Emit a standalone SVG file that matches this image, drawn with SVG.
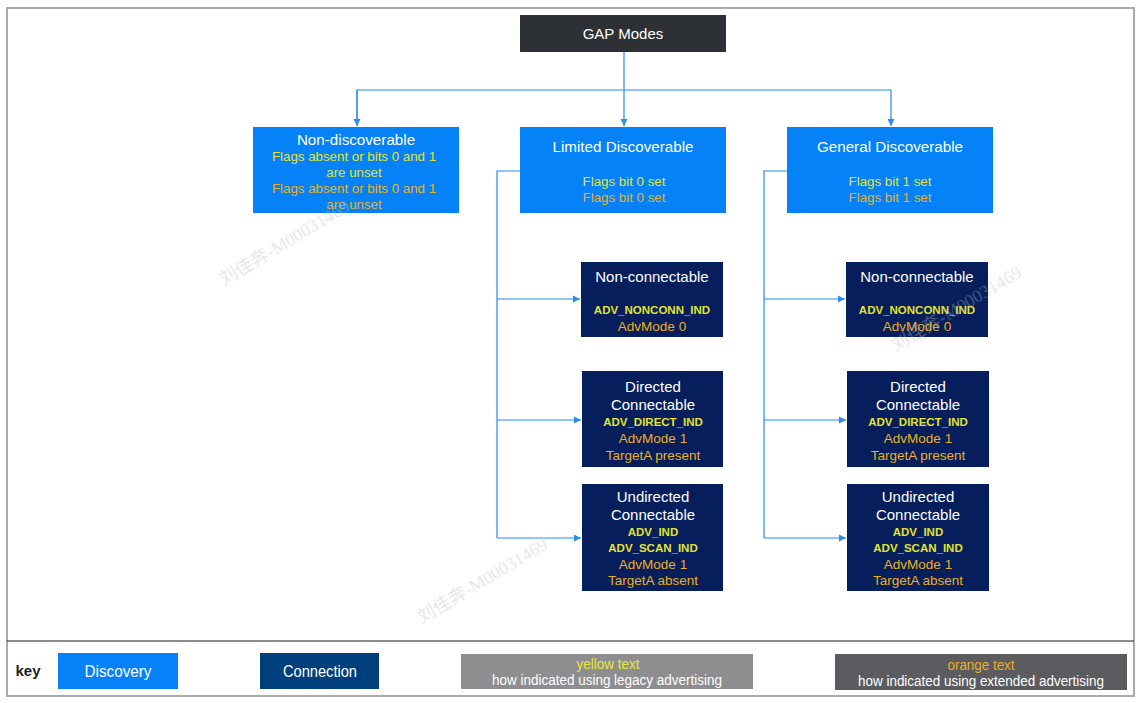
<svg xmlns="http://www.w3.org/2000/svg" width="1142" height="703" viewBox="0 0 1142 703">
<defs>
<marker id="arr" markerWidth="8" markerHeight="8" refX="7" refY="4" orient="auto" markerUnits="userSpaceOnUse">
<path d="M0,0.5 L7,4 L0,7.5 Z" fill="#2a8cf0"/>
</marker>
<style>
text{font-family:"Liberation Sans",Arial,sans-serif;text-anchor:middle}
.disc{fill:#0582f8}
.conn{fill:#061e5c}
.t{fill:#ffffff;font-size:15.2px}
.tc{fill:#ffffff;font-size:15px}
.y{fill:#e3e32f;font-size:13.3px}
.o{fill:#eab020;font-size:13.3px}
.yb{fill:#e3e32f;font-size:11.5px;font-weight:bold}
.oc{fill:#eab020;font-size:13.5px}
.ln{fill:none;stroke:#2a8cf0;stroke-width:1.2}
.wm{fill:#bdbdbd;opacity:0.35;font-size:18px;font-family:"Liberation Serif","Noto Sans CJK SC",serif;text-anchor:start}
</style>
</defs>
<rect x="0" y="0" width="1142" height="703" fill="#ffffff"/>
<rect x="7" y="8" width="1127" height="688" fill="none" stroke="#aaaaaa" stroke-width="2"/>
<line x1="7" y1="641" x2="1134" y2="641" stroke="#1a1a1a" stroke-width="1.2"/>

<g id="connectors">
<path class="ln" d="M624,52 V126" marker-end="url(#arr)"/>
<path class="ln" d="M357,126 V90 H891 V126" marker-end="url(#arr)"/>
<path class="ln" d="M357,90 V126" marker-end="url(#arr)"/>
<path class="ln" d="M520,171 H497 V538"/>
<path class="ln" d="M497,299 H580" marker-end="url(#arr)"/>
<path class="ln" d="M497,420 H581" marker-end="url(#arr)"/>
<path class="ln" d="M497,538 H581" marker-end="url(#arr)"/>
<path class="ln" d="M787,171 H764 V538"/>
<path class="ln" d="M764,299 H845" marker-end="url(#arr)"/>
<path class="ln" d="M764,420 H846" marker-end="url(#arr)"/>
<path class="ln" d="M764,538 H846" marker-end="url(#arr)"/>
</g>

<g id="gap-modes">
<rect x="520" y="15" width="206" height="37" fill="#2d3035"/>
<text x="623" y="39" fill="#ffffff" font-size="15">GAP Modes</text>
</g>

<g id="non-discoverable">
<rect class="disc" x="253" y="127" width="206" height="86"/>
<text class="t" x="356" y="145">Non-discoverable</text>
<text class="y" x="354" y="161">Flags absent or bits 0 and 1</text>
<text class="y" x="354" y="177">are unset</text>
<text class="o" x="354" y="193">Flags absent or bits 0 and 1</text>
<text class="o" x="354" y="209">are unset</text>
</g>

<g id="limited-discoverable">
<rect class="disc" x="520" y="127" width="206" height="86"/>
<text class="t" x="623" y="152">Limited Discoverable</text>
<text class="y" x="624" y="186">Flags bit 0 set</text>
<text class="o" x="624" y="202">Flags bit 0 set</text>
</g>

<g id="general-discoverable">
<rect class="disc" x="787" y="127" width="206" height="86"/>
<text class="t" x="890" y="152">General Discoverable</text>
<text class="y" x="890" y="186">Flags bit 1 set</text>
<text class="o" x="890" y="202">Flags bit 1 set</text>
</g>

<g id="lim-non-connectable">
<rect class="conn" x="581" y="262" width="142" height="75"/>
<text class="tc" x="652" y="282">Non-connectable</text>
<text class="yb" x="652" y="314">ADV_NONCONN_IND</text>
<text class="oc" x="652" y="331">AdvMode 0</text>
</g>

<g id="lim-directed">
<rect class="conn" x="582" y="371" width="141" height="96"/>
<text class="tc" x="653" y="392">Directed</text>
<text class="tc" x="653" y="410">Connectable</text>
<text class="yb" x="653" y="426">ADV_DIRECT_IND</text>
<text class="oc" x="653" y="443">AdvMode 1</text>
<text class="oc" x="653" y="460">TargetA present</text>
</g>

<g id="lim-undirected">
<rect class="conn" x="582" y="484" width="141" height="107"/>
<text class="tc" x="653" y="502">Undirected</text>
<text class="tc" x="653" y="520">Connectable</text>
<text class="yb" x="653" y="536">ADV_IND</text>
<text class="yb" x="653" y="552">ADV_SCAN_IND</text>
<text class="oc" x="653" y="569">AdvMode 1</text>
<text class="oc" x="653" y="585">TargetA absent</text>
</g>

<g id="gen-non-connectable">
<rect class="conn" x="846" y="262" width="142" height="75"/>
<text class="tc" x="917" y="282">Non-connectable</text>
<text class="yb" x="917" y="314">ADV_NONCONN_IND</text>
<text class="oc" x="917" y="331">AdvMode 0</text>
</g>

<g id="gen-directed">
<rect class="conn" x="847" y="371" width="142" height="96"/>
<text class="tc" x="918" y="392">Directed</text>
<text class="tc" x="918" y="410">Connectable</text>
<text class="yb" x="918" y="426">ADV_DIRECT_IND</text>
<text class="oc" x="918" y="443">AdvMode 1</text>
<text class="oc" x="918" y="460">TargetA present</text>
</g>

<g id="gen-undirected">
<rect class="conn" x="847" y="484" width="142" height="107"/>
<text class="tc" x="918" y="502">Undirected</text>
<text class="tc" x="918" y="520">Connectable</text>
<text class="yb" x="918" y="536">ADV_IND</text>
<text class="yb" x="918" y="552">ADV_SCAN_IND</text>
<text class="oc" x="918" y="569">AdvMode 1</text>
<text class="oc" x="918" y="585">TargetA absent</text>
</g>

<g id="legend">
<text x="28" y="676" font-size="14" font-weight="bold" fill="#222222" textLength="25" lengthAdjust="spacingAndGlyphs">key</text>
<rect x="58" y="653" width="120" height="36" fill="#0582f8"/>
<text x="118" y="677" font-size="16" fill="#ffffff" textLength="67" lengthAdjust="spacingAndGlyphs">Discovery</text>
<rect x="260" y="653" width="119" height="36" fill="#003f7d"/>
<text x="320" y="677" font-size="16" fill="#ffffff" textLength="74" lengthAdjust="spacingAndGlyphs">Connection</text>
<rect x="461" y="654" width="292" height="35" fill="#8e8e90"/>
<text x="608" y="669" font-size="14" fill="#e8e830" textLength="63" lengthAdjust="spacingAndGlyphs">yellow text</text>
<text x="607" y="685" font-size="14" fill="#ffffff" textLength="230" lengthAdjust="spacingAndGlyphs">how indicated using legacy advertising</text>
<rect x="835" y="654" width="292" height="36" fill="#5c5c60"/>
<text x="981" y="670" font-size="14" fill="#eab020" textLength="67" lengthAdjust="spacingAndGlyphs">orange text</text>
<text x="981" y="686" font-size="14" fill="#ffffff" textLength="246" lengthAdjust="spacingAndGlyphs">how indicated using extended advertising</text>
</g>

<g id="watermarks">
<text class="wm" transform="translate(224,286) rotate(-31)">刘佳奔-M00031469</text>
<text class="wm" transform="translate(896,352) rotate(-31)">刘佳奔-M00031469</text>
<text class="wm" transform="translate(422,624) rotate(-31)">刘佳奔-M00031469</text>
</g>
</svg>
